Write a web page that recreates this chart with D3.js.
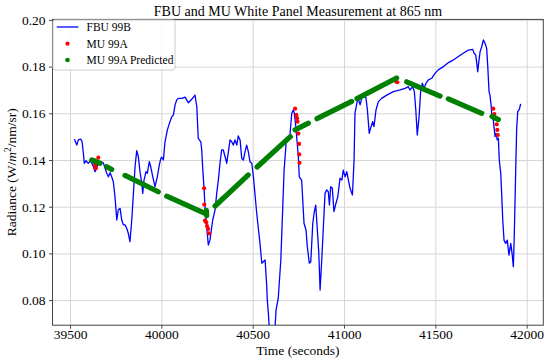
<!DOCTYPE html>
<html>
<head>
<meta charset="utf-8">
<script src="https://cdn.jsdelivr.net/npm/d3@7"></script>
<style>
  body { margin: 0; background: #fff; }
  svg text { font-family: "Liberation Serif", "Times New Roman", serif !important; fill: #000; }
  .grid line { stroke: #d6d6d6; stroke-width: 1; }
  .grid path { display: none; }
</style>
</head>
<body>
<svg id="chart" width="550" height="359"></svg>
<script>
// FBU 99B radiance trace (seconds, W/m2/nm/sr)
const fbuTime = [
  39524,39537,39545,39559,39566,39573,39578,39588,39599,39613,
  39628,39637,39646,39655,39668,39682,39692,39701,39710,39719,
  39728,39737,39746,39756,39764,39774,39783,39792,39801,39810,
  39819,39828,39838,39847,39856,39865,39874,39883,39893,39898,
  39905,39916,39923,39934,39942,39953,39965,39978,39989,39997,
  40002,40011,40020,40033,40044,40057,40066,40075,40084,40093,
  40112,40130,40148,40166,40184,40194,40202,40216,40221,40226,
  40234,40241,40248,40257,40266,40281,40294,40303,40312,40321,
  40330,40339,40349,40358,40367,40376,40385,40394,40403,40413,
  40421,40431,40440,40449,40458,40467,40476,40485,40495,40504,
  40522,40540,40550,40558,40568,40577,40580,40586,40600,40617,
  40628,40640,40654,40664,40672,40683,40695,40704,40714,40722,
  40728,40736,40750,40755,40768,40774,40781,40792,40799,40810,
  40818,40829,40836,40845,40854,40862,40869,40878,40887,40896,
  40905,40914,40920,40927,40936,40945,40956,40966,40978,40988,
  40996,41006,41015,41024,41033,41046,41055,41060,41070,41078,
  41088,41097,41106,41120,41128,41138,41148,41157,41164,41175,
  41188,41206,41234,41270,41307,41334,41352,41361,41376,41385,
  41393,41401,41411,41420,41429,41438,41449,41462,41480,41498,
  41516,41544,41571,41598,41626,41653,41681,41705,41712,41721,
  41727,41732,41739,41745,41754,41763,41772,41781,41787,41794,
  41799,41805,41810,41817,41827,41832,41839,41845,41850,41858,
  41863,41869,41876,41885,41894,41903,41913,41920,41927,41932,
  41940,41945,41951,41960,41967
];
const fbuRadiance = [
  .1489,.1464,.1486,.1489,.1478,.1429,.1386,.1397,.1386,.1397,
  .1371,.1350,.1365,.1386,.1393,.1388,.1365,.1343,.1328,.1346,
  .1328,.1307,.1243,.1143,.1186,.1193,.1143,.1122,.1122,.1108,
  .1086,.1050,.1143,.1257,.1371,.1440,.1414,.1350,.1300,.1257,
  .1314,.1350,.1343,.1393,.1371,.1328,.1286,.1328,.1379,.1407,
  .1412,.1400,.1478,.1529,.1557,.1585,.1593,.1636,.1657,.1664,
  .1664,.1669,.1645,.1660,.1678,.1628,.1493,.1478,.1443,.1371,
  .1272,.1172,.1114,.1036,.1057,.1143,.1186,.1257,.1314,.1386,
  .1443,.1443,.1414,.1386,.1436,.1486,.1478,.1464,.1486,.1464,
  .1503,.1486,.1407,.1400,.1436,.1464,.1436,.1393,.1386,.1328,
  .1172,.1043,.0958,.0964,.0972,.0857,.0800,.0743,.0565,.0608,
  .0758,.0808,.0972,.1186,.1357,.1472,.1486,.1507,.1600,.1614,
  .1600,.1543,.1414,.1328,.1314,.1229,.1129,.1100,.1029,.0958,
  .0964,.1129,.1172,.1207,.1100,.1000,.0843,.0972,.1114,.1257,
  .1272,.1264,.1207,.1286,.1279,.1179,.1215,.1243,.1322,.1314,
  .1357,.1328,.1350,.1314,.1279,.1250,.1400,.1600,.1643,.1664,
  .1636,.1664,.1671,.1667,.1614,.1514,.1543,.1564,.1543,.1614,
  .1650,.1664,.1678,.1693,.1700,.1707,.1714,.1700,.1714,.1693,
  .1614,.1507,.1586,.1700,.1729,.1707,.1729,.1743,.1750,.1771,
  .1786,.1800,.1817,.1828,.1843,.1857,.1871,.1874,.1857,.1850,
  .1814,.1778,.1828,.1864,.1885,.1914,.1900,.1878,.1800,.1693,
  .1678,.1636,.1586,.1571,.1500,.1514,.1486,.1493,.1400,.1343,
  .1257,.1143,.1057,.1043,.1057,.0993,.1043,.1000,.0943,.1072,
  .1357,.1529,.1607,.1617,.1640
];

// MU 99A measured points
const muTime = [39630,39635,39638,39641,39645,39655,
  40234,40235,40239,40246,40250,40256,40260,
  40732,40739,40743,40745,40750,40754,40755,40756,
  41286,41292,
  41817,41823,41831,41836,41839,41842];
const muRadiance = [.1400,.1388,.1377,.1365,.1387,.1410,
  .1279,.1209,.1140,.1133,.1117,.1105,.1086,
  .1620,.1593,.1579,.1564,.1513,.1469,.1424,.1388,
  .1735,.1733,
  .1620,.1597,.1577,.1553,.1529,.1507];

// MU 99A predicted, drawn as runs (start/end of each visible run)
const predStartTime = [39619,39701,39801,40029,40247,40294,40524,40732,40852,41071,41343,41571,41810];
const predStartValue = [.1400,.1371,.1334,.1245,.1184,.1203,.1370,.1529,.1577,.1663,.1735,.1662,.1587];
const predEndTime = [39664,39728,39983,40239,40248,40476,40706,40805,41042,41288,41526,41754,41845];
const predEndValue = [.1386,.1359,.1264,.1171,.1162,.1336,.1500,.1558,.1651,.1751,.1674,.1600,.1573];

const xTicks = [39500,40000,40500,41000,41500,42000];
const yTicks = [0.08,0.10,0.12,0.14,0.16,0.18,0.20];
const seriesNames = ['FBU 99B','MU 99A','MU 99A Predicted'];

const svg = d3.select('#chart');
const pl = 52.5, pt = 19.4, pr = 543.3, pb = 325.2;

const x = d3.scaleLinear().domain([39404, 42091]).range([pl, pr]);
const y = d3.scaleLinear().domain([0.06925, 0.20022]).range([pb, pt]);

svg.append('defs').append('clipPath').attr('id', 'plotclip')
  .append('rect').attr('x', pl).attr('y', pt)
  .attr('width', pr - pl).attr('height', pb - pt);

// grid
svg.append('g').attr('class', 'grid')
  .attr('transform', `translate(0,${pb})`)
  .call(d3.axisBottom(x).tickValues(xTicks).tickSize(-(pb - pt)).tickFormat(''));
svg.append('g').attr('class', 'grid')
  .attr('transform', `translate(${pl},0)`)
  .call(d3.axisLeft(y).tickValues(yTicks).tickSize(-(pr - pl)).tickFormat(''));

const plot = svg.append('g').attr('clip-path', 'url(#plotclip)');

const line = d3.line().x(i => x(fbuTime[i])).y(i => y(fbuRadiance[i]));
plot.append('path')
  .attr('d', line(d3.range(fbuTime.length)))
  .attr('fill', 'none').attr('stroke', '#0000ff').attr('stroke-width', 1.3)
  .attr('stroke-linejoin', 'round');

plot.selectAll('circle.mu')
  .data(d3.range(muTime.length))
  .enter().append('circle').attr('class', 'mu')
  .attr('cx', i => x(muTime[i])).attr('cy', i => y(muRadiance[i]))
  .attr('r', 2.1).attr('fill', '#ff0000');

plot.selectAll('line.pred')
  .data(d3.range(predStartTime.length))
  .enter().append('line').attr('class', 'pred')
  .attr('x1', i => x(predStartTime[i])).attr('y1', i => y(predStartValue[i]))
  .attr('x2', i => x(predEndTime[i])).attr('y2', i => y(predEndValue[i]))
  .attr('stroke', '#008000').attr('stroke-width', 5.2).attr('stroke-linecap', 'round');

// axes
const xAxis = svg.append('g')
  .attr('transform', `translate(0,${pb})`)
  .call(d3.axisBottom(x).tickValues(xTicks).tickSize(3.5).tickPadding(1).tickFormat(d3.format('d')));
const yAxis = svg.append('g')
  .attr('transform', `translate(${pl},0)`)
  .call(d3.axisLeft(y).tickValues(yTicks).tickSize(3.5).tickPadding(3.5).tickFormat(d3.format('.2f')));
[xAxis, yAxis].forEach(a => {
  a.attr('font-family', null);
  a.select('.domain').remove();
  a.selectAll('line').attr('stroke', '#333').attr('stroke-width', 0.9);
  a.selectAll('text').style('font-family', '"Liberation Serif", serif').attr('font-size', 13.5).attr('fill', '#000');
});

svg.append('rect')
  .attr('x', pl).attr('y', pt).attr('width', pr - pl).attr('height', pb - pt)
  .attr('fill', 'none').attr('stroke', '#444').attr('stroke-width', 1);

// title and labels
svg.append('text').attr('x', (pl + pr) / 2).attr('y', 16)
  .attr('text-anchor', 'middle').attr('font-size', 14)
  .text('FBU and MU White Panel Measurement at 865 nm');

svg.append('text').attr('x', (pl + pr) / 2).attr('y', 355)
  .attr('text-anchor', 'middle').attr('font-size', 13.5)
  .text('Time (seconds)');

const yl = svg.append('text')
  .attr('transform', `translate(16,${(pt + pb) / 2}) rotate(-90)`)
  .attr('text-anchor', 'middle').attr('font-size', 13.5);
yl.append('tspan').text('Radiance (W/');
yl.append('tspan').attr('font-style', 'italic').text('m');
yl.append('tspan').attr('dy', -5).attr('font-size', 9.5).text('2');
yl.append('tspan').attr('dy', 5).text('/nm/sr)');

// legend
const lg = svg.append('g');
lg.append('rect').attr('x', pl + 0.5).attr('y', pt + 0.6).attr('width', 122).attr('height', 50)
  .attr('rx', 2).attr('fill', '#fff').attr('fill-opacity', 0.85)
  .attr('stroke', '#cccccc').attr('stroke-width', 1);
const rowY = [27, 43.7, 60];
lg.append('line').attr('x1', 56.7).attr('x2', 78.3).attr('y1', rowY[0]).attr('y2', rowY[0])
  .attr('stroke', '#0000ff').attr('stroke-width', 1.3);
lg.append('circle').attr('cx', 67.5).attr('cy', rowY[1]).attr('r', 2.1).attr('fill', '#ff0000');
lg.append('circle').attr('cx', 67.5).attr('cy', rowY[2]).attr('r', 2.3).attr('fill', '#008000');
lg.selectAll('text.leg').data(seriesNames).enter().append('text').attr('class', 'leg')
  .attr('x', 86.5).attr('y', (d, i) => rowY[i] + 3.8)
  .attr('font-size', 11.5).text(d => d);
</script>
</body>
</html>
